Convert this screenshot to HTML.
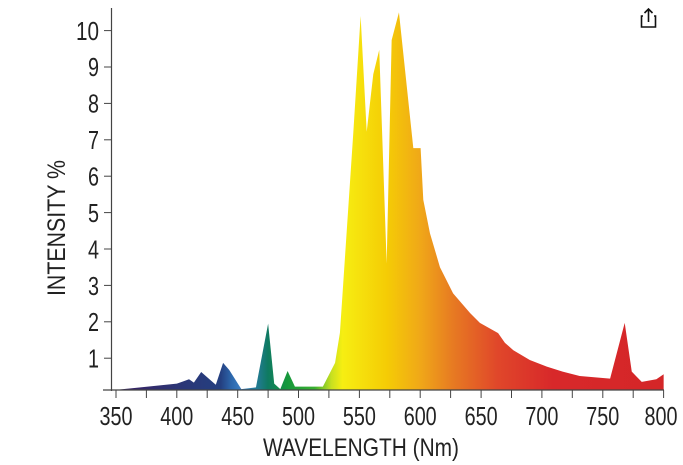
<!DOCTYPE html>
<html><head><meta charset="utf-8"><style>
html,body{margin:0;padding:0;background:#fff;}
svg{display:block;}
text{font-family:"Liberation Sans",sans-serif;fill:#222;}
</style></head><body>
<svg width="683" height="465" viewBox="0 0 683 465" xmlns="http://www.w3.org/2000/svg">
<defs>
<linearGradient id="g" gradientUnits="userSpaceOnUse" x1="345" y1="0" x2="800" y2="0">
<stop offset="0" stop-color="#3b1d5e"/>
<stop offset="0.12" stop-color="#2c3575"/>
<stop offset="0.2" stop-color="#243f80"/>
<stop offset="0.22" stop-color="#2d68ad"/>
<stop offset="0.235" stop-color="#3a7cc0"/>
<stop offset="0.27" stop-color="#1f7a8a"/>
<stop offset="0.285" stop-color="#0f7a62"/>
<stop offset="0.32" stop-color="#16983c"/>
<stop offset="0.37" stop-color="#3bb030"/>
<stop offset="0.40" stop-color="#c8e020"/>
<stop offset="0.42" stop-color="#f6ee12"/>
<stop offset="0.5" stop-color="#f5cc05"/>
<stop offset="0.56" stop-color="#f0a818"/>
<stop offset="0.62" stop-color="#e77a22"/>
<stop offset="0.7" stop-color="#e0472a"/>
<stop offset="0.8" stop-color="#d8282a"/>
<stop offset="1" stop-color="#d42628"/>
</linearGradient>
</defs>
<g transform="translate(116,394.6) scale(1.217,-36.4) translate(-350,0)">
<polygon fill="url(#g)" points="346,0.13 350,0.13 400,0.3 410,0.42 414,0.33 420,0.62 432,0.27 438,0.87 443,0.68 453,0.15 465,0.2 475,1.95 480,0.3 485,0.15 491,0.65 497,0.22 520,0.22 530,0.87 534,1.7 545,7.2 551,10.4 556,7.22 561.4,8.8 566.3,9.47 572.4,3.6 576.5,9.74 582.5,10.5 594.3,6.77 600.3,6.77 602.5,5.35 608,4.43 616.2,3.5 627,2.78 641,2.24 649,1.97 664,1.69 669.6,1.42 676.5,1.22 690,0.95 704,0.77 717,0.63 731,0.51 756,0.44 768,1.97 773.8,0.63 782,0.35 794,0.42 800,0.56 800,0.13"/>
</g>
<line x1="111.5" y1="8" x2="111.5" y2="391" stroke="#444" stroke-width="1.2"/>
<line x1="103" y1="390" x2="664" y2="390" stroke="#444" stroke-width="1.2"/>
<g stroke="#444" stroke-width="1">
<line x1="116" y1="390" x2="116" y2="398"/><line x1="146.4" y1="390" x2="146.4" y2="398"/>
<line x1="176.8" y1="390" x2="176.8" y2="398"/><line x1="207.2" y1="390" x2="207.2" y2="398"/>
<line x1="237.7" y1="390" x2="237.7" y2="398"/><line x1="268.1" y1="390" x2="268.1" y2="398"/>
<line x1="298.5" y1="390" x2="298.5" y2="398"/><line x1="328.9" y1="390" x2="328.9" y2="398"/>
<line x1="359.4" y1="390" x2="359.4" y2="398"/><line x1="389.8" y1="390" x2="389.8" y2="398"/>
<line x1="420.2" y1="390" x2="420.2" y2="398"/><line x1="450.6" y1="390" x2="450.6" y2="398"/>
<line x1="481.1" y1="390" x2="481.1" y2="398"/><line x1="511.5" y1="390" x2="511.5" y2="398"/>
<line x1="541.9" y1="390" x2="541.9" y2="398"/><line x1="572.3" y1="390" x2="572.3" y2="398"/>
<line x1="602.8" y1="390" x2="602.8" y2="398"/><line x1="633.2" y1="390" x2="633.2" y2="398"/>
<line x1="663.6" y1="390" x2="663.6" y2="398"/>
<line x1="104" y1="358.2" x2="111" y2="358.2"/><line x1="104" y1="321.8" x2="111" y2="321.8"/>
<line x1="104" y1="285.4" x2="111" y2="285.4"/><line x1="104" y1="249" x2="111" y2="249"/>
<line x1="104" y1="212.6" x2="111" y2="212.6"/><line x1="104" y1="176.2" x2="111" y2="176.2"/>
<line x1="104" y1="139.8" x2="111" y2="139.8"/><line x1="104" y1="103.4" x2="111" y2="103.4"/>
<line x1="104" y1="67" x2="111" y2="67"/><line x1="104" y1="30.6" x2="111" y2="30.6"/>
</g>
<g font-size="26" text-anchor="end" lengthAdjust="spacingAndGlyphs">
<text x="99" y="367.5" textLength="11" lengthAdjust="spacingAndGlyphs">1</text>
<text x="99" y="331" textLength="11" lengthAdjust="spacingAndGlyphs">2</text>
<text x="99" y="295" textLength="11" lengthAdjust="spacingAndGlyphs">3</text>
<text x="99" y="258.5" textLength="11" lengthAdjust="spacingAndGlyphs">4</text>
<text x="99" y="222" textLength="11" lengthAdjust="spacingAndGlyphs">5</text>
<text x="99" y="185.5" textLength="11" lengthAdjust="spacingAndGlyphs">6</text>
<text x="99" y="149" textLength="11" lengthAdjust="spacingAndGlyphs">7</text>
<text x="99" y="112.5" textLength="11" lengthAdjust="spacingAndGlyphs">8</text>
<text x="99" y="76" textLength="11" lengthAdjust="spacingAndGlyphs">9</text>
<text x="99" y="40" textLength="23" lengthAdjust="spacingAndGlyphs">10</text>
</g>
<g font-size="26" text-anchor="middle">
<text x="116" y="425" textLength="33" lengthAdjust="spacingAndGlyphs">350</text>
<text x="176.8" y="425" textLength="33" lengthAdjust="spacingAndGlyphs">400</text>
<text x="237.7" y="425" textLength="33" lengthAdjust="spacingAndGlyphs">450</text>
<text x="298.5" y="425" textLength="33" lengthAdjust="spacingAndGlyphs">500</text>
<text x="359.4" y="425" textLength="33" lengthAdjust="spacingAndGlyphs">550</text>
<text x="420.2" y="425" textLength="33" lengthAdjust="spacingAndGlyphs">600</text>
<text x="481.1" y="425" textLength="33" lengthAdjust="spacingAndGlyphs">650</text>
<text x="541.9" y="425" textLength="33" lengthAdjust="spacingAndGlyphs">700</text>
<text x="602.8" y="425" textLength="33" lengthAdjust="spacingAndGlyphs">750</text>
<text x="661" y="425" textLength="33" lengthAdjust="spacingAndGlyphs">800</text>
</g>
<text x="361" y="456" font-size="25" text-anchor="middle" textLength="196" lengthAdjust="spacingAndGlyphs">WAVELENGTH (Nm)</text>
<text transform="translate(65,228) rotate(-90)" font-size="25" text-anchor="middle" textLength="136" lengthAdjust="spacingAndGlyphs">INTENSITY %</text>
<g stroke="#111" stroke-width="1.6" fill="none">
<path d="M643 16 H641.5 V27 H655.5 V16 H654"/>
<path d="M648.5 22 V9 M644.5 13 L648.5 9 L652.5 13"/>
</g>
</svg>
</body></html>
